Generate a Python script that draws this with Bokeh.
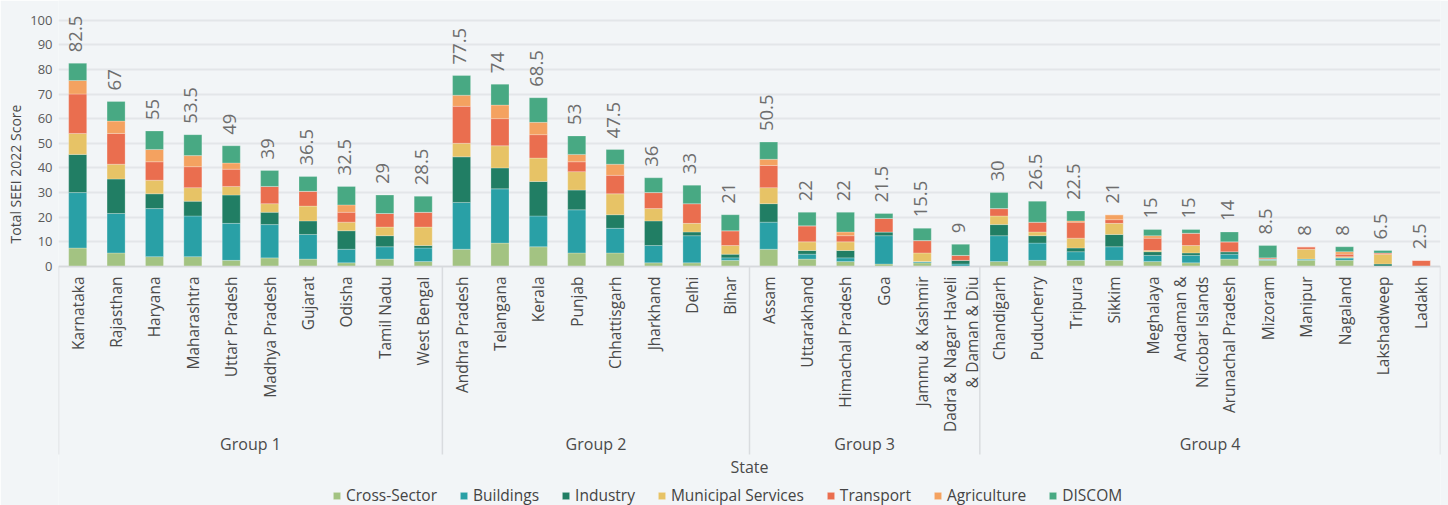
import math
from bokeh.plotting import figure
from bokeh.models import (FactorRange, Range1d, FixedTicker, Legend, LegendItem,
                          ColumnDataSource, Title)
from bokeh.core.properties import value
from bokeh.embed import file_html
from bokeh.resources import INLINE

# ---------------- data ----------------
groups = (["Group 1"] * 10 + ["Group 2"] * 8 + ["Group 3"] * 6 + ["Group 4"] * 12)
states = ["Karnataka", "Rajasthan", "Haryana", "Maharashtra", "Uttar Pradesh",
          "Madhya Pradesh", "Gujarat", "Odisha", "Tamil Nadu", "West Bengal",
          "Andhra Pradesh", "Telangana", "Kerala", "Punjab", "Chhattisgarh",
          "Jharkhand", "Delhi", "Bihar",
          "Assam", "Uttarakhand", "Himachal Pradesh", "Goa", "Jammu & Kashmir",
          "Dadra & Nagar Haveli\n& Daman & Diu",
          "Chandigarh", "Puducherry", "Tripura", "Sikkim", "Meghalaya",
          "Andaman &\nNicobar Islands", "Arunachal Pradesh", "Mizoram", "Manipur",
          "Nagaland", "Lakshadweep", "Ladakh"]

sectors = ["Cross-Sector", "Buildings", "Industry", "Municipal Services",
           "Transport", "Agriculture", "DISCOM"]

cross_sector = [7.5, 5.5, 4, 4, 2.5, 3.5, 3, 1.5, 3, 2,
                7, 9.5, 8, 5.5, 5.5, 1.5, 1.5, 2.5,
                7, 3, 2, 1, 1.5, 0,
                2, 2.5, 2.5, 2.5, 2, 1.5, 3, 2.5, 2.5, 2.5, 0, 0]
buildings = [22.5, 16, 19.5, 16.5, 15, 13.5, 10, 5.5, 5, 5.5,
             19, 22, 12.5, 17.5, 10, 7, 11, 1,
             11, 2, 1.5, 11.5, 0.5, 1,
             10.5, 7, 3.5, 5.5, 2.5, 3, 2, 0.5, 0.5, 1, 0, 0]
industry = [15.5, 14, 6, 6, 11.5, 5, 5.5, 7.5, 4.5, 1,
            18.5, 8.5, 14, 8, 5.5, 10, 1.5, 1.5,
            7.5, 1.5, 3, 1.5, 0, 1.5,
            4.5, 3, 1.5, 5, 1.5, 1, 1, 0, 0, 0, 1, 0]
municipal = [8.5, 6, 5.5, 5.5, 3.5, 3.5, 6, 3.5, 3.5, 7.5,
             5.5, 9, 9.5, 7.5, 8.5, 5, 3.5, 3.5,
             6.5, 3.5, 3.5, 0, 3.5, 0,
             3.5, 1.5, 4, 4.5, 0.5, 3, 0, 0, 4, 0.5, 4, 0]
transport = [16, 12.5, 7.5, 8.5, 7, 7, 6, 4, 5.5, 6,
             15, 11, 9.5, 4, 7.5, 6.5, 8, 6,
             9, 6.5, 2.5, 5.5, 5, 2,
             3, 4, 6.5, 1.5, 5, 5, 4, 0.5, 1, 1, 0.5, 2.5]
agriculture = [5.5, 5, 5, 4.5, 2.5, 0, 0, 3, 0, 0,
               4.5, 5.5, 5, 3, 4.5, 0, 0, 0,
               2.5, 0, 1.5, 0, 0, 0,
               0, 0, 0.5, 2, 1, 0, 0, 0, 0, 1, 0, 0]
discom = [7, 8, 7.5, 8.5, 7, 6.5, 6, 7.5, 7.5, 6.5,
          8, 8.5, 10, 7.5, 6, 6, 7.5, 6.5,
          7, 5.5, 8, 2, 5, 4.5,
          6.5, 8.5, 4, 0, 2.5, 1.5, 4, 5, 0, 2, 1, 0]

colors = ["#a3c382", "#29a0a6", "#217e64", "#e7c366", "#ea6e4f", "#f4a260", "#48a983"]

y_ticks = [0, 10, 20, 30, 40, 50, 60, 70, 80, 90, 100]

# ---------------- build ----------------
factors = list(zip(groups, states))
series = [cross_sector, buildings, industry, municipal, transport, agriculture, discom]
totals = [sum(v) for v in zip(*series)]
total_labels = [("%g" % t) for t in totals]

data = {"x": factors}
for name, vals in zip(sectors, series):
    data[name] = vals
src = ColumnDataSource(data)

BG = "#f2f5f7"
FONT = "Open Sans"
TXT = "#4a4a4a"

p = figure(x_range=FactorRange(*factors, factor_padding=0, group_padding=0,
                               subgroup_padding=0, range_padding=0),
           y_range=Range1d(-97.0, 107.95),
           width=1448, height=505, output_backend="svg", toolbar_location=None,
           min_border_left=58, min_border_right=8, min_border_top=0,
           min_border_bottom=0, title=None)
p.background_fill_color = BG
p.border_fill_color = BG
p.outline_line_color = None

renderers = p.vbar_stack(sectors, x="x", width=0.47, color=colors, source=src,
                         line_color="white", line_alpha=0.3, line_width=0.8)

# total labels
lab_src = ColumnDataSource(dict(x=factors, y=totals, t=total_labels))
p.text(x="x", y="y", text="t", source=lab_src, angle=math.pi / 2,
       text_align="left", text_baseline="middle", y_offset=-11, x_offset=-2,
       text_font=value(FONT), text_font_size="18.5px", text_color="#6e6e6e")

# group boundaries (synthetic coordinates) -> separator lines and group labels
bounds = [0]
for i in range(1, len(groups)):
    if groups[i] != groups[i - 1]:
        bounds.append(i)
bounds.append(len(groups))
p.segment(x0=bounds, x1=bounds, y0=[0] * len(bounds), y1=[-76.3] * len(bounds),
          line_color="#d9dcdf", line_width=1.5)

group_names = [groups[b] for b in bounds[:-1]]
group_centers = [(a + b) / 2 for a, b in zip(bounds[:-1], bounds[1:])]
p.text(x=group_centers, y=[-72.2] * len(group_names), text=group_names,
       text_align="center", text_baseline="middle",
       text_font=value(FONT), text_font_size="16px", text_color=TXT)

# y axis
ya = p.yaxis[0]
ya.ticker = FixedTicker(ticks=y_ticks)
ya.axis_line_color = None
ya.major_tick_line_color = None
ya.minor_tick_line_color = None
ya.major_tick_out = 0
ya.major_label_standoff = 6
ya.major_label_text_font = FONT
ya.major_label_text_font_size = "13px"
ya.major_label_text_color = "#5a5a5a"

ytitle = Title(text="Total SEEI 2022 Score", align="left", offset=262,
               text_font=FONT, text_font_size="14px", text_font_style="normal",
               text_color=TXT, standoff=5)
p.add_layout(ytitle, "left")

p.ygrid.ticker = FixedTicker(ticks=y_ticks)
p.ygrid.grid_line_color = "#e3e6e9"
p.ygrid.grid_line_width = 2
p.xgrid.visible = False

# x axis (nested categorical) fixed at y = 0
xa = p.xaxis[0]
xa.fixed_location = 0
xa.axis_line_color = "#d6d9dc"
xa.axis_line_width = 1.5
xa.major_tick_line_color = None
xa.minor_tick_line_color = None
xa.major_tick_out = 0
xa.major_tick_in = 0
xa.major_label_orientation = math.pi / 2
xa.major_label_standoff = 10
xa.major_label_text_font = FONT
xa.major_label_text_font_size = "15.5px"
xa.major_label_text_color = TXT
xa.major_label_text_line_height = 1.0
xa.group_text_font_size = "1px"
xa.group_text_color = None
xa.separator_line_color = None
xa.axis_label = "State"
xa.axis_label_text_font = FONT
xa.axis_label_text_font_size = "16px"
xa.axis_label_text_font_style = "normal"
xa.axis_label_text_color = TXT
xa.axis_label_standoff = 21

# legend
legend = Legend(items=[LegendItem(label=s, renderers=[r]) for s, r in zip(sectors, renderers)],
                orientation="horizontal", location=(274, -1),
                padding=0, margin=0, spacing=22, label_standoff=5,
                glyph_width=9, glyph_height=9, label_height=16,
                label_text_font=FONT, label_text_font_size="15.5px",
                label_text_color="#444444",
                background_fill_alpha=0, border_line_color=None)
p.add_layout(legend)

open("out.html", "w").write(file_html(p, INLINE))
